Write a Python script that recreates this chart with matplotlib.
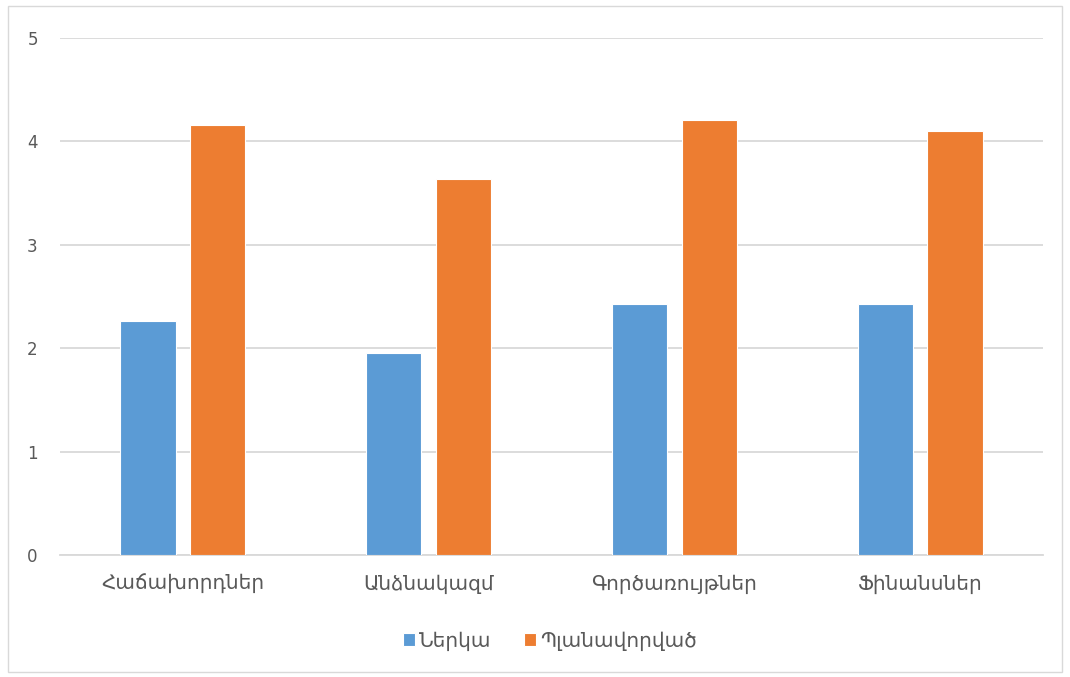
import numpy as np
import matplotlib.pyplot as plt
from matplotlib.patches import Rectangle

plt.rcParams['font.family'] = ['DejaVu Sans']

categories = ["Հաճախորդներ", "Անձնակազմ", "Գործառույթներ", "Ֆինանսներ"]
current = [2.26, 1.95, 2.43, 2.43]
planned = [4.16, 3.64, 4.21, 4.10]
series_names = ["Ներկա", "Պլանավորված"]

blue = "#5b9bd5"
orange = "#ed7d31"
gray_text = "#595959"

fig = plt.figure(figsize=(10.7, 6.77), dpi=100)
ax = fig.add_axes([60 / 1070, 1 - 555 / 677, 983 / 1070, 517 / 677])

x = np.arange(len(categories))
w = 0.224
off = 0.142
ax.bar(x - off, current, w, color=blue, edgecolor="white", linewidth=0.8,
       label=series_names[0], zorder=3)
ax.bar(x + off, planned, w, color=orange, edgecolor="white", linewidth=0.8,
       label=series_names[1], zorder=3)

ax.set_xlim(-0.5, len(categories) - 0.5)
ax.set_ylim(0, 5)
ax.set_yticks(range(6))
ax.yaxis.grid(True, color="#d9d9d9", linewidth=1.3, zorder=0)
ax.set_axisbelow(True)
for s in ["top", "right", "left"]:
    ax.spines[s].set_visible(False)
ax.spines["bottom"].set_color("#d9d9d9")
ax.spines["bottom"].set_linewidth(1.3)
ax.tick_params(axis="y", length=0, colors=gray_text, labelsize=12, pad=16)
ax.tick_params(axis="x", length=0, colors=gray_text, labelsize=14.5, pad=14)
ax.set_xticks(x)
ax.set_xticklabels(categories)

fig.legend(loc="center", bbox_to_anchor=(550 / 1070, 1 - 641 / 677), ncol=2,
           frameon=False, fontsize=14.5, handlelength=0.6, handleheight=0.6,
           handletextpad=0.2, columnspacing=1.6, labelcolor=gray_text)

# light frame around the whole chart area
fig.patches.append(Rectangle((8 / 1070, 5 / 677), 1054 / 1070, 666 / 677,
                             transform=fig.transFigure, fill=False,
                             edgecolor="#d9d9d9", linewidth=1))

fig.savefig("out.png", dpi=100)
